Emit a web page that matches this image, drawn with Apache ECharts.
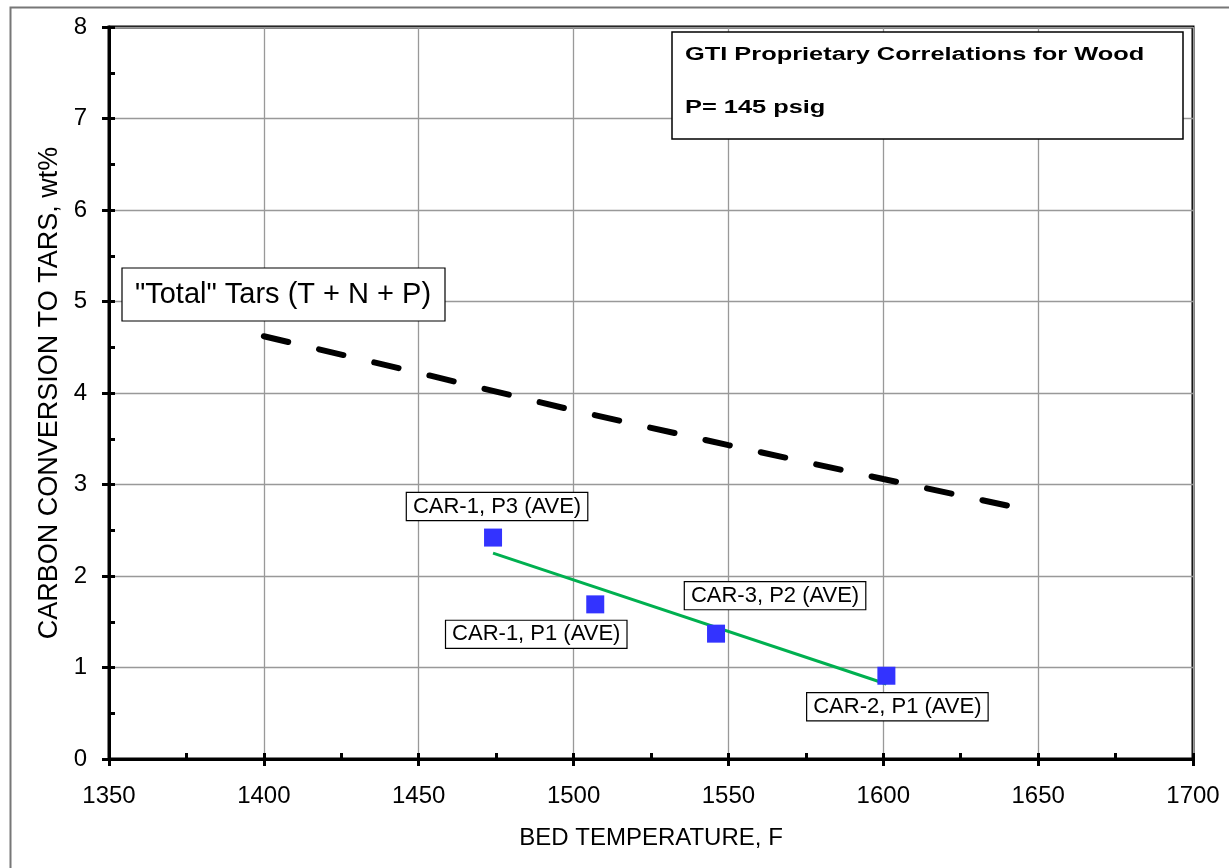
<!DOCTYPE html>
<html>
<head>
<meta charset="utf-8">
<script src="https://cdn.jsdelivr.net/npm/echarts@6/dist/echarts.min.js"></script>
<style>
html,body{margin:0;padding:0;background:#fff;}
#chart{width:1229px;height:868px;}
</style>
</head>
<body>
<div id="chart"></div>
<script>
// ---- data ----
const measuredTemps = [1474, 1507, 1546, 1601];
const measuredTars = [2.42, 1.69, 1.37, 0.91];
const measuredLabels = ['CAR-1, P3 (AVE)', 'CAR-1, P1 (AVE)', 'CAR-3, P2 (AVE)', 'CAR-2, P1 (AVE)'];
const fitTemps = [1474, 1601];
const fitTars = [2.25, 0.82];
const totalTemps = [1400, 1450, 1500, 1550, 1600, 1640];
const totalTars = [4.62, 4.22, 3.81, 3.43, 3.06, 2.77];
const xTickValues = [1350, 1400, 1450, 1500, 1550, 1600, 1650, 1700];
const yTickValues = [0, 1, 2, 3, 4, 5, 6, 7, 8];
const xTitle = 'BED TEMPERATURE, F';
const yTitle = 'CARBON CONVERSION TO TARS, wt%';
const boxLine1 = 'GTI Proprietary Correlations for Wood';
const boxLine2 = 'P= 145 psig';
const totalLabel = '"Total" Tars (T + N + P)';

// ---- chart ----
const FONT = '"Liberation Sans", Arial, sans-serif';
const labelOffsets = [[4, -31], [-59, 30], [59, -38], [11, 31]];
const chart = echarts.init(document.getElementById('chart'));

const xMin = xTickValues[0], xMax = xTickValues[xTickValues.length - 1];
const xInt = xTickValues[1] - xTickValues[0];
const yMin = yTickValues[0], yMax = yTickValues[yTickValues.length - 1];
const yInt = yTickValues[1] - yTickValues[0];

const option = {
  animation: false,
  backgroundColor: '#fff',
  grid: {
    left: 109, right: 36, top: 27, bottom: 109,
    show: true, borderColor: '#000', borderWidth: 3, backgroundColor: 'transparent'
  },
  xAxis: [
    {
      type: 'value', min: xMin, max: xMax, interval: xInt,
      name: xTitle, nameLocation: 'middle', nameGap: 67,
      nameTextStyle: { fontFamily: FONT, fontSize: 24, color: '#000' },
      axisLine: { show: true, onZero: false, lineStyle: { color: '#000', width: 3 } },
      axisTick: { show: true, inside: true, length: 6, lineStyle: { color: '#000', width: 3 } },
      minorTick: { show: true, splitNumber: 2, length: 6, lineStyle: { color: '#000', width: 3 } },
      axisLabel: { fontFamily: FONT, fontSize: 24, color: '#000', margin: 25, formatter: v => String(v) },
      splitLine: { show: true, lineStyle: { color: '#999', width: 1.3 } }
    },
    {
      type: 'value', min: xMin, max: xMax, interval: xInt, position: 'bottom',
      axisLine: { show: false },
      axisTick: { show: true, inside: false, length: 7, lineStyle: { color: '#000', width: 3 } },
      axisLabel: { show: false }, splitLine: { show: false }
    }
  ],
  yAxis: [
    {
      type: 'value', min: yMin, max: yMax, interval: yInt,
      name: yTitle, nameLocation: 'middle', nameGap: 46, nameRotate: 90,
      nameTextStyle: { fontFamily: FONT, fontSize: 27, color: '#000' },
      axisLine: { show: true, onZero: false, lineStyle: { color: '#000', width: 3 } },
      axisTick: { show: true, inside: true, length: 6, lineStyle: { color: '#000', width: 3 } },
      minorTick: { show: true, splitNumber: 2, length: 6, lineStyle: { color: '#000', width: 3 } },
      axisLabel: { fontFamily: FONT, fontSize: 24, color: '#000', margin: 22 },
      splitLine: { show: true, lineStyle: { color: '#999', width: 1.3 } }
    },
    {
      type: 'value', min: yMin, max: yMax, interval: yInt, position: 'left',
      axisLine: { show: false },
      axisTick: { show: true, inside: false, length: 7, lineStyle: { color: '#000', width: 3 } },
      axisLabel: { show: false }, splitLine: { show: false }
    }
  ],
  series: [
    {
      type: 'line', name: 'total',
      data: totalTemps.map((t, i) => [t, totalTars[i]]),
      showSymbol: false, symbol: 'none', smooth: false,
      lineStyle: { color: '#000', width: 6, type: [25, 31.7], cap: 'round' },
      z: 3
    },
    {
      type: 'line', name: 'fit',
      data: fitTemps.map((t, i) => [t, fitTars[i]]),
      showSymbol: false, symbol: 'none',
      lineStyle: { color: '#00b050', width: 3 },
      z: 4
    },
    {
      type: 'scatter', name: 'measured',
      symbol: 'rect', symbolSize: 18,
      itemStyle: { color: '#3333ff', opacity: 1 },
      data: measuredTemps.map((t, i) => ({
        value: [t, measuredTars[i]],
        label: {
          show: true, position: 'inside', offset: labelOffsets[i],
          formatter: measuredLabels[i],
          fontFamily: FONT, fontSize: 22, color: '#000',
          backgroundColor: '#fff', borderColor: '#000', borderWidth: 1.2,
          padding: [3, 6, 2, 6]
        }
      })),
      z: 5
    }
  ],
  graphic: [
    {
      type: 'rect', left: 8, top: 5, z: -10, silent: true,
      shape: { width: 1260, height: 900 },
      style: { fill: 'none', stroke: '#777', lineWidth: 2 }
    },
    {
      type: 'rect', x: 672, y: 32, z: 100,
      shape: { x: 0, y: 0, width: 511, height: 107 },
      style: { fill: '#fff', stroke: '#000', lineWidth: 1.5 }
    },
    {
      type: 'text', x: 685, y: 55, z: 101, scaleX: 1.41, originX: 0, originY: 0,
      style: { text: boxLine1, font: 'bold 18px ' + FONT, fill: '#000', verticalAlign: 'middle', textVerticalAlign: 'middle' }
    },
    {
      type: 'text', x: 685, y: 108, z: 101, scaleX: 1.41, originX: 0, originY: 0,
      style: { text: boxLine2, font: 'bold 18px ' + FONT, fill: '#000', verticalAlign: 'middle', textVerticalAlign: 'middle' }
    },
    {
      type: 'rect', x: 122, y: 268, z: 100,
      shape: { x: 0, y: 0, width: 323, height: 53 },
      style: { fill: '#fff', stroke: '#000', lineWidth: 1.2 }
    },
    {
      type: 'text', x: 283, y: 295, z: 101,
      style: { text: totalLabel, font: '29px ' + FONT, fill: '#000', align: 'center', verticalAlign: 'middle', textAlign: 'center', textVerticalAlign: 'middle' }
    }
  ]
};
chart.setOption(option);
</script>
</body>
</html>
